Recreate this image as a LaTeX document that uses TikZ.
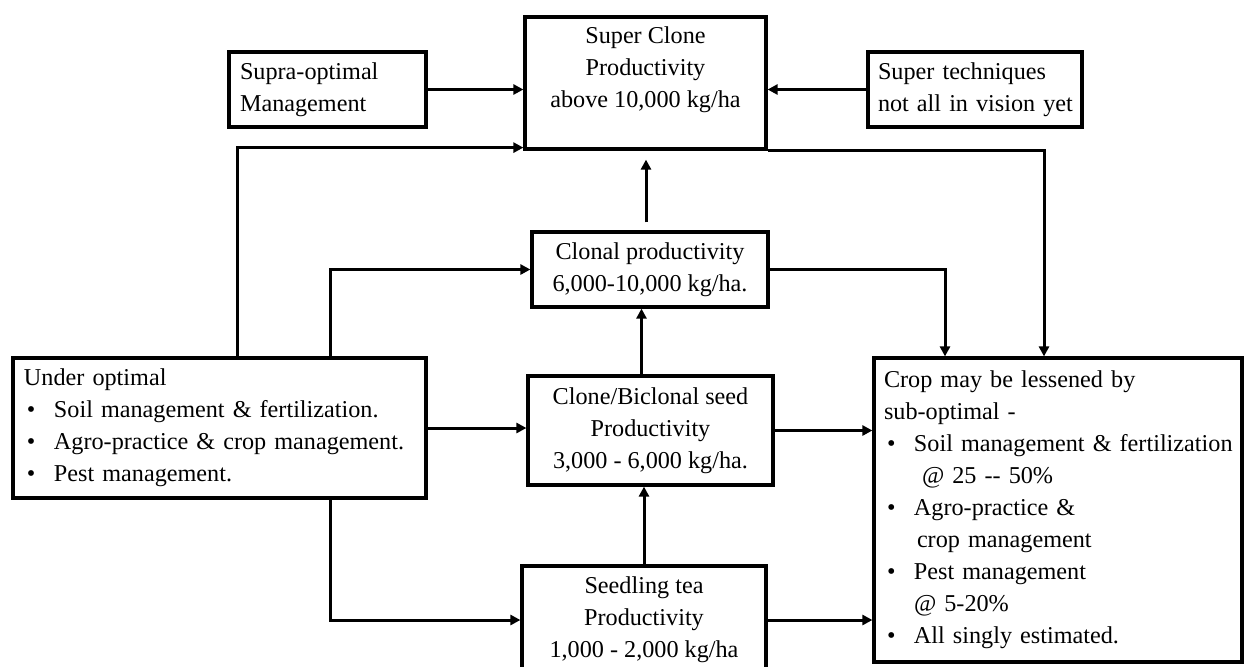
\documentclass[tikz,border=0pt]{standalone}
\usepackage{fontspec}
\setmainfont{Liberation Serif}
\usetikzlibrary{arrows.meta,positioning}
\newcommand{\bitem}{\hspace*{1.5pt}\makebox[13.5pt][l]{\textbullet}}
\newcommand{\bcont}{\hspace*{15pt}}

\begin{document}
\begin{tikzpicture}[x=0.5pt,y=-0.5pt,
  box/.style={draw=black,line width=1.6pt,align=center,inner xsep=5.5pt,font=\fontsize{12.1}{16}\selectfont},
  leftbox/.style={box,align=left},
  arr/.style={-{Triangle[length=5pt,width=5pt]},line width=1.5pt}]
\useasboundingbox (0,0) rectangle (1244,666);
\node[box,minimum width=120.5pt,minimum height=66pt] (super) at (645.5,83) {Super Clone\\Productivity\\above 10,000 kg/ha\\ \mbox{}};
\node[leftbox,text width=87.5pt,minimum height=37.5pt] (supra) at (327.5,89.5) {Supra-optimal\\Management};
\node[leftbox,inner xsep=5pt,text width=97pt,minimum height=37.5pt] (tech) at (975,89.5) {\mbox{Super techniques}\\\mbox{not all in vision yet}};
\node[box,minimum width=118pt,minimum height=37.5pt] (clonal) at (650,269.5) {Clonal productivity\\6,000-10,000 kg/ha.};
\node[box,minimum width=122.5pt,minimum height=54.5pt] (biclonal) at (650.5,430.5) {Clone/Biclonal seed\\Productivity\\3,000 - 6,000 kg/ha.};
\node[box,minimum width=122pt,minimum height=54pt] (seedling) at (644,620) {Seedling tea\\Productivity\\1,000 - 2,000 kg/ha};
\node[leftbox,text width=195.5pt,minimum height=70pt] (under) at (219.5,428) {Under optimal\\
  \bitem Soil management \& fertilization.\\
  \bitem Agro-practice \& crop management.\\
  \bitem Pest management.};
\node[leftbox,inner xsep=5pt,text width=174pt,minimum height=152pt] (crop) at (1058,510) {Crop may be lessened by\\
  sub-optimal -\\
  \bitem\mbox{Soil management \& fertilization}\\
  \hspace*{19pt}@ 25 -{}- 50\%\\
  \bitem Agro-practice \&\\
  \hspace*{16.5pt}crop management\\
  \bitem Pest management\\
  \bcont @ 5-20\%\\
  \bitem All singly estimated.};
\draw[arr] (supra.east) -- (supra.east -| super.west);
\draw[arr] (tech.west) -- (tech.west -| super.east);
\draw[arr] ([xshift=8.75pt]under.north) |- ([yshift=1.5pt]super.south west);
\draw[arr] ([xshift=55.25pt]under.north) |- (clonal.west);
\draw[arr] ([xshift=55.25pt]under.south) |- (seedling.west);
\draw[arr] (under.east) -- (under.east -| biclonal.west);
\draw[arr] (seedling.north) -- (seedling.north |- biclonal.south);
\draw[arr] ([xshift=-4.5pt]biclonal.north) -- ([xshift=-4.5pt]biclonal.north |- clonal.south);
\draw[arr,shorten <=4pt,shorten >=4.5pt] ([xshift=-2pt]clonal.north) -- ([xshift=-2pt]clonal.north |- super.south);
\draw[arr] (super.south east) -| ([xshift=-7pt]crop.north);
\draw[arr] (clonal.east) -| ([xshift=-56.5pt]crop.north);
\draw[arr] (biclonal.east) -- (biclonal.east -| crop.west);
\draw[arr] (seedling.east) -- (seedling.east -| crop.west);
\end{tikzpicture}
\end{document}
